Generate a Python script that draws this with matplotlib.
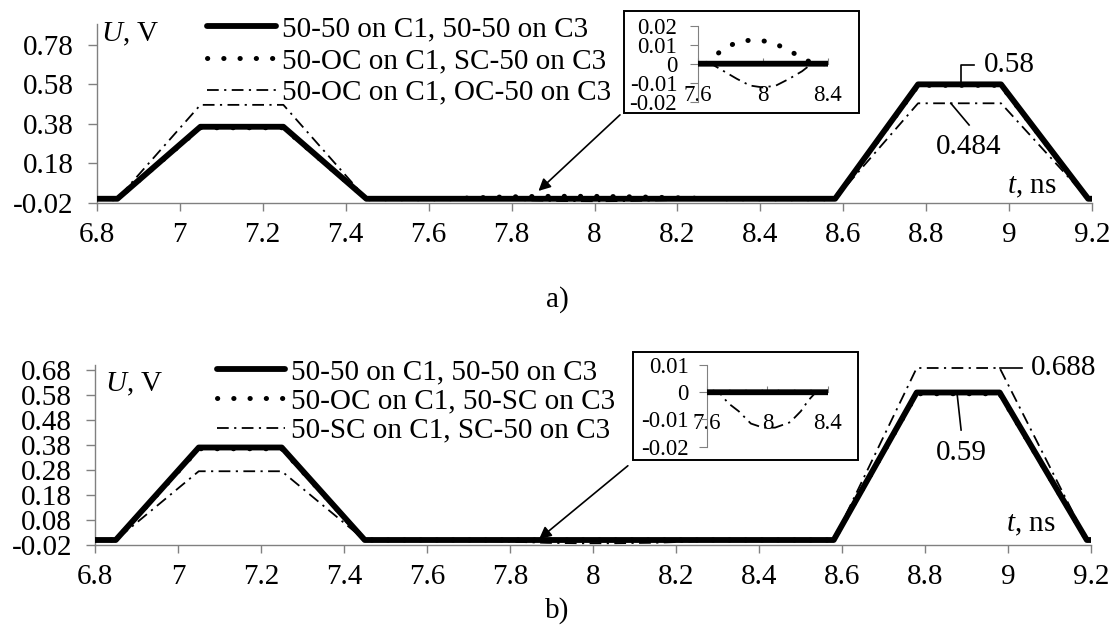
import matplotlib
matplotlib.use("Agg")
import matplotlib.pyplot as plt
from matplotlib.patches import Rectangle

plt.rcParams['font.family'] = ['Liberation Serif', 'DejaVu Serif']
plt.rcParams['mathtext.fontset'] = 'custom'
plt.rcParams['mathtext.rm'] = 'Liberation Serif'
plt.rcParams['mathtext.it'] = 'Liberation Serif:italic'

# ---- data, panel a ----
t_ref_a = [6.80, 6.85, 7.05, 7.25, 7.45, 8.58, 8.78, 8.98, 9.19, 9.20]
u_ref_a = [0, 0, 0.365, 0.365, 0, 0, 0.58, 0.58, 0, 0]

t_dot_a = [6.80, 6.85, 7.05, 7.25, 7.45, 7.65, 7.70, 7.78, 7.86, 7.94, 8.02, 8.10,
           8.18, 8.26, 8.32, 8.58, 8.78, 8.98, 9.19, 9.20]
u_dot_a = [0, 0, 0.36, 0.36, 0, 0, 0.004, 0.009, 0.0118, 0.0125, 0.0118, 0.0095,
           0.006, 0.002, 0, 0, 0.575, 0.575, 0, 0]

t_dd_a = [6.80, 6.85, 7.05, 7.25, 7.45, 7.68, 7.76, 7.84, 7.92, 8.00, 8.08, 8.16,
          8.24, 8.30, 8.58, 8.78, 8.98, 9.19, 9.20]
u_dd_a = [0, 0, 0.476, 0.476, 0, 0, -0.004, -0.008, -0.0115, -0.0125, -0.0115, -0.008,
          -0.004, 0, 0, 0.484, 0.484, 0, 0]

labels_a = ['50-50 on C1, 50-50 on C3',
            '50-OC on C1, SC-50 on C3',
            '50-OC on C1, OC-50 on C3']

# ---- data, panel b ----
t_ref_b = [6.80, 6.85, 7.05, 7.25, 7.45, 8.58, 8.78, 8.98, 9.19, 9.20]
u_ref_b = [0, 0, 0.37, 0.37, 0, 0, 0.59, 0.59, 0, 0]

t_dot_b = [6.80, 6.85, 7.05, 7.25, 7.45, 8.58, 8.78, 8.98, 9.19, 9.20]
u_dot_b = [0, 0, 0.365, 0.365, 0, 0, 0.585, 0.585, 0, 0]

t_dd_b = [6.80, 6.85, 7.05, 7.25, 7.45, 7.68, 7.74, 7.81, 7.89, 7.97, 8.05, 8.15,
          8.22, 8.27, 8.32, 8.58, 8.78, 8.98, 9.19, 9.20]
u_dd_b = [0, 0, 0.275, 0.275, 0, 0, -0.004, -0.007, -0.0115, -0.013, -0.013, -0.011,
          -0.007, -0.003, 0, 0, 0.688, 0.688, 0, 0]

labels_b = ['50-50 on C1, 50-50 on C3',
            '50-OC on C1, 50-SC on C3',
            '50-SC on C1, SC-50 on C3']

xticks = [6.8, 7, 7.2, 7.4, 7.6, 7.8, 8, 8.2, 8.4, 8.6, 8.8, 9, 9.2]
yticks_a = [-0.02, 0.18, 0.38, 0.58, 0.78]
yticks_b = [-0.02, 0.08, 0.18, 0.28, 0.38, 0.48, 0.58, 0.68]

W, H = 1114, 626
FS = 21
FS_IN = 16.5
GRAY = '#808080'

fig = plt.figure(figsize=(W / 100, H / 100), dpi=100)


def px_axes(x0, x1, ytop, ybot):
    return fig.add_axes([x0 / W, 1 - ybot / H, (x1 - x0) / W, (ybot - ytop) / H])


def style_main(ax, ylim, yticks):
    ax.set_xlim(6.8, 9.2)
    ax.set_ylim(*ylim)
    for s in ['top', 'right']:
        ax.spines[s].set_visible(False)
    for s in ['left', 'bottom']:
        ax.spines[s].set_color(GRAY)
        ax.spines[s].set_linewidth(1.0)
    ax.set_xticks(xticks)
    ax.set_xticklabels(['{:g}'.format(v) for v in xticks])
    ax.set_yticks(yticks)
    ax.set_yticklabels(['{:.2f}'.format(v) for v in yticks])
    ax.tick_params(axis='x', direction='out', length=6, width=1, color=GRAY, pad=8,
                   labelsize=FS)
    ax.tick_params(axis='y', direction='out', length=6.5, width=1, color=GRAY, pad=10,
                   labelsize=FS)
    ax.patch.set_alpha(0)


def draw_series(ax, t1, u1, t2, u2, t3, u3, labels):
    ax.plot(t1, u1, color='black', lw=4.2, solid_capstyle='round', solid_joinstyle='round',
            label=labels[0], zorder=3)
    ax.plot(t2, u2, color='black', lw=3.6, linestyle=(0, (0.05, 3.2)),
            dash_capstyle='round', label=labels[1], zorder=4)
    ax.plot(t3, u3, color='black', lw=1.3, linestyle=(0, (6.5, 3, 1.2, 3)),
            label=labels[2], zorder=5)


def style_inset(ax, ylim, yticks, ypad):
    ax.set_xlim(7.6, 8.4)
    ax.set_ylim(*ylim)
    for s in ['top', 'right']:
        ax.spines[s].set_visible(False)
    ax.spines['bottom'].set_position(('data', 0))
    ax.spines['bottom'].set_color(GRAY)
    ax.spines['left'].set_color(GRAY)
    ax.set_xticks([7.6, 8, 8.4])
    ax.set_xticklabels(['7.6', '8', '8.4'])
    ax.set_yticks(yticks)
    ax.set_yticklabels(['{:g}'.format(v) for v in yticks])
    ax.tick_params(axis='x', direction='in', length=4, color=GRAY, pad=15, labelsize=FS_IN)
    ax.tick_params(axis='y', direction='out', length=5.5, color=GRAY, pad=ypad,
                   labelsize=FS_IN)
    ax.patch.set_alpha(0)


def inset_frame(x0, x1, ytop, ybot):
    fig.patches.append(Rectangle((x0 / W, 1 - ybot / H), (x1 - x0) / W, (ybot - ytop) / H,
                                 transform=fig.transFigure, facecolor='white',
                                 edgecolor='black', lw=1.4, zorder=2))


# ---------------- panel a ----------------
ax_a = px_axes(96.7, 1092.3, 24, 202.7)
style_main(ax_a, (-0.02, 0.886), yticks_a)
draw_series(ax_a, t_ref_a, u_ref_a, t_dot_a, u_dot_a, t_dd_a, u_dd_a, labels_a)
ax_a.legend(loc='upper left', bbox_to_anchor=(0.111, 1.045), frameon=False,
            fontsize=FS, handlelength=2.35, handletextpad=0.2, labelspacing=0.18,
            borderpad=0, borderaxespad=0)
ax_a.text(0.004, 0.94, r'$U$, V', transform=ax_a.transAxes, fontsize=FS,
          ha='left', va='center')
ax_a.text(0.964, 0.09, r'$t$, ns', transform=ax_a.transAxes, fontsize=FS,
          ha='right', va='center')
ax_a.plot([8.883, 8.883, 8.915], [0.58, 0.679, 0.679], color='black', lw=1.2)
ax_a.text(8.939, 0.679, '0.58', fontsize=FS, ha='left', va='center')
ax_a.plot([8.859, 8.903], [0.484, 0.374], color='black', lw=1.2)
ax_a.text(8.903, 0.264, '0.484', fontsize=FS, ha='center', va='center')
ax_a.annotate('', xy=(7.86, 0.03), xycoords='data', xytext=(622, H - 113),
              textcoords='figure pixels',
              arrowprops=dict(arrowstyle='-|>', color='black', lw=1.2, mutation_scale=18))

inset_frame(624, 859, 11, 113)
ins_a = px_axes(698, 828, 25.7, 101.7)
style_inset(ins_a, (-0.02, 0.02), [-0.02, -0.01, 0, 0.01, 0.02], ypad=9.5)
draw_series(ins_a, t_ref_a, u_ref_a, t_dot_a, u_dot_a, t_dd_a, u_dd_a, labels_a)
ins_a.set_xlim(7.6, 8.4)
ins_a.set_zorder(3)

fig.text(557 / W, 1 - 300 / H, 'a)', fontsize=FS, ha='center', va='center')

# ---------------- panel b ----------------
ax_b = px_axes(95, 1091, 365, 545)
style_main(ax_b, (-0.02, 0.70), yticks_b)
draw_series(ax_b, t_ref_b, u_ref_b, t_dot_b, u_dot_b, t_dd_b, u_dd_b, labels_b)
ax_b.legend(loc='upper left', bbox_to_anchor=(0.122, 1.035), frameon=False,
            fontsize=FS, handlelength=2.35, handletextpad=0.2, labelspacing=0.1,
            borderpad=0, borderaxespad=0)
ax_b.text(0.01, 0.89, r'$U$, V', transform=ax_b.transAxes, fontsize=FS,
          ha='left', va='center')
ax_b.text(0.964, 0.11, r'$t$, ns', transform=ax_b.transAxes, fontsize=FS,
          ha='right', va='center')
ax_b.plot([8.98, 9.034], [0.688, 0.688], color='black', lw=1.2)
ax_b.text(9.055, 0.688, '0.688', fontsize=FS, ha='left', va='center')
ax_b.plot([8.877, 8.887], [0.59, 0.44], color='black', lw=1.2)
ax_b.text(8.887, 0.347, '0.59', fontsize=FS, ha='center', va='center')
ax_b.annotate('', xy=(7.865, -0.003), xycoords='data', xytext=(630, H - 464),
              textcoords='figure pixels',
              arrowprops=dict(arrowstyle='-|>', color='black', lw=1.2, mutation_scale=18))

inset_frame(633, 858, 352, 460)
ins_b = px_axes(707, 828, 365, 446.7)
style_inset(ins_b, (-0.02, 0.01), [-0.02, -0.01, 0, 0.01], ypad=7.5)
draw_series(ins_b, t_ref_b, u_ref_b, t_dot_b, u_dot_b, t_dd_b, u_dd_b, labels_b)
ins_b.set_xlim(7.6, 8.4)
ins_b.set_zorder(3)

fig.text(557 / W, 1 - 611 / H, 'b)', fontsize=FS, ha='center', va='center')

fig.savefig('out.png', dpi=100)
